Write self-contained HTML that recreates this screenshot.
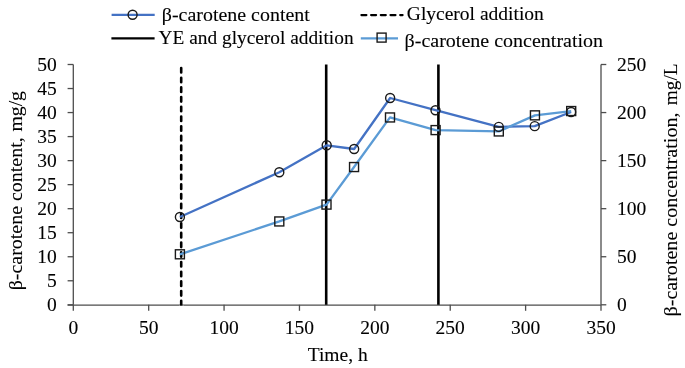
<!DOCTYPE html><html><head><meta charset="utf-8"><style>html,body{margin:0;padding:0;background:#fff;}svg{display:block;will-change:transform;}text{font-family:"Liberation Serif",serif;fill:#000;stroke:#000;stroke-width:0.1px;white-space:pre;}</style></head><body>
<svg width="685" height="368" viewBox="0 0 685 368">
<rect width="685" height="368" fill="#fff"/>
<g stroke="#4d4d4d" stroke-width="1.3" fill="none">
<line x1="73.3" y1="64.5" x2="73.3" y2="304.8"/>
<line x1="601" y1="64.5" x2="601" y2="304.8"/>
<line x1="67.6" y1="305.1" x2="601" y2="305.1"/>
<line x1="67.6" y1="304.80" x2="73.3" y2="304.80"/>
<line x1="67.6" y1="280.77" x2="73.3" y2="280.77"/>
<line x1="67.6" y1="256.74" x2="73.3" y2="256.74"/>
<line x1="67.6" y1="232.71" x2="73.3" y2="232.71"/>
<line x1="67.6" y1="208.68" x2="73.3" y2="208.68"/>
<line x1="67.6" y1="184.65" x2="73.3" y2="184.65"/>
<line x1="67.6" y1="160.62" x2="73.3" y2="160.62"/>
<line x1="67.6" y1="136.59" x2="73.3" y2="136.59"/>
<line x1="67.6" y1="112.56" x2="73.3" y2="112.56"/>
<line x1="67.6" y1="88.53" x2="73.3" y2="88.53"/>
<line x1="67.6" y1="64.50" x2="73.3" y2="64.50"/>
<line x1="601" y1="304.80" x2="606.3" y2="304.80"/>
<line x1="601" y1="256.74" x2="606.3" y2="256.74"/>
<line x1="601" y1="208.68" x2="606.3" y2="208.68"/>
<line x1="601" y1="160.62" x2="606.3" y2="160.62"/>
<line x1="601" y1="112.56" x2="606.3" y2="112.56"/>
<line x1="601" y1="64.50" x2="606.3" y2="64.50"/>
<line x1="73.30" y1="304.8" x2="73.30" y2="310.8"/>
<line x1="148.69" y1="304.8" x2="148.69" y2="310.8"/>
<line x1="224.07" y1="304.8" x2="224.07" y2="310.8"/>
<line x1="299.46" y1="304.8" x2="299.46" y2="310.8"/>
<line x1="374.84" y1="304.8" x2="374.84" y2="310.8"/>
<line x1="450.23" y1="304.8" x2="450.23" y2="310.8"/>
<line x1="525.61" y1="304.8" x2="525.61" y2="310.8"/>
<line x1="601.00" y1="304.8" x2="601.00" y2="310.8"/>
</g>
<g font-size="19.5">
<text x="56.8" y="310.80" text-anchor="end">0</text>
<text x="56.8" y="286.85" text-anchor="end">5</text>
<text x="56.8" y="262.90" text-anchor="end">10</text>
<text x="56.8" y="238.95" text-anchor="end">15</text>
<text x="56.8" y="215.00" text-anchor="end">20</text>
<text x="56.8" y="191.05" text-anchor="end">25</text>
<text x="56.8" y="167.10" text-anchor="end">30</text>
<text x="56.8" y="143.15" text-anchor="end">35</text>
<text x="56.8" y="119.20" text-anchor="end">40</text>
<text x="56.8" y="95.25" text-anchor="end">45</text>
<text x="56.8" y="71.30" text-anchor="end">50</text>
<text x="617" y="311.20">0</text>
<text x="617" y="263.22">50</text>
<text x="617" y="215.24">100</text>
<text x="617" y="167.26">150</text>
<text x="617" y="119.28">200</text>
<text x="617" y="71.30">250</text>
<text x="73.30" y="333.6" text-anchor="middle">0</text>
<text x="148.69" y="333.6" text-anchor="middle">50</text>
<text x="224.07" y="333.6" text-anchor="middle">100</text>
<text x="299.46" y="333.6" text-anchor="middle">150</text>
<text x="374.84" y="333.6" text-anchor="middle">200</text>
<text x="450.23" y="333.6" text-anchor="middle">250</text>
<text x="525.61" y="333.6" text-anchor="middle">300</text>
<text x="601.00" y="333.6" text-anchor="middle">350</text>
<text x="307.7" y="360.6">Time, h</text>
<text transform="translate(22.3,290.3) rotate(-90)" textLength="153" lengthAdjust="spacingAndGlyphs">β-carotene content,</text>
<text transform="translate(22.3,131.6) rotate(-90)" textLength="40.6" lengthAdjust="spacingAndGlyphs">mg/g</text>
<text transform="translate(676.6,316.5) rotate(-90)" textLength="204" lengthAdjust="spacingAndGlyphs">β-carotene concentration,</text>
<text transform="translate(676.6,105.2) rotate(-90)" textLength="41.8" lengthAdjust="spacingAndGlyphs">mg/L</text>
</g>
<line x1="181.2" y1="68.0" x2="181.2" y2="306.1" stroke="#000" stroke-width="2.6" stroke-linecap="round" stroke-dasharray="4.5 5.2"/>
<rect x="179" y="305.75" width="5" height="3" fill="#fff"/>
<line x1="326.2" y1="64.5" x2="326.2" y2="304.8" stroke="#000" stroke-width="2.6"/>
<line x1="438.4" y1="64.5" x2="438.4" y2="304.8" stroke="#000" stroke-width="2.6"/>
<polyline points="179.9,217.05 279.3,172.2 326.7,145.3 354.15,149.0 390.15,98.0 435.5,110.2 498.8,126.9 534.7,126.15 571.1,112.0" fill="none" stroke="#4472C4" stroke-width="2.3" stroke-linejoin="round"/>
<polyline points="179.9,254.3 279.3,221.45 326.5,204.6 354.05,167.05 390.0,117.45 435.6,130.1 498.8,131.45 534.95,115.35 571.2,111.05" fill="none" stroke="#5B9BD5" stroke-width="2.3" stroke-linejoin="round"/>
<circle cx="179.9" cy="217.05" r="4.5" fill="none" stroke="#1a1a1a" stroke-width="1.4"/>
<circle cx="279.3" cy="172.2" r="4.5" fill="none" stroke="#1a1a1a" stroke-width="1.4"/>
<circle cx="326.7" cy="145.3" r="4.5" fill="none" stroke="#1a1a1a" stroke-width="1.4"/>
<circle cx="354.15" cy="149.0" r="4.5" fill="none" stroke="#1a1a1a" stroke-width="1.4"/>
<circle cx="390.15" cy="98.0" r="4.5" fill="none" stroke="#1a1a1a" stroke-width="1.4"/>
<circle cx="435.5" cy="110.2" r="4.5" fill="none" stroke="#1a1a1a" stroke-width="1.4"/>
<circle cx="498.8" cy="126.9" r="4.5" fill="none" stroke="#1a1a1a" stroke-width="1.4"/>
<circle cx="534.7" cy="126.15" r="4.5" fill="none" stroke="#1a1a1a" stroke-width="1.4"/>
<circle cx="571.1" cy="112.0" r="4.5" fill="none" stroke="#1a1a1a" stroke-width="1.4"/>
<rect x="175.4" y="249.8" width="9" height="9" fill="none" stroke="#1a1a1a" stroke-width="1.4"/>
<rect x="274.8" y="216.95" width="9" height="9" fill="none" stroke="#1a1a1a" stroke-width="1.4"/>
<rect x="322.0" y="200.1" width="9" height="9" fill="none" stroke="#1a1a1a" stroke-width="1.4"/>
<rect x="349.55" y="162.55" width="9" height="9" fill="none" stroke="#1a1a1a" stroke-width="1.4"/>
<rect x="385.5" y="112.95" width="9" height="9" fill="none" stroke="#1a1a1a" stroke-width="1.4"/>
<rect x="431.1" y="125.6" width="9" height="9" fill="none" stroke="#1a1a1a" stroke-width="1.4"/>
<rect x="494.3" y="126.94999999999999" width="9" height="9" fill="none" stroke="#1a1a1a" stroke-width="1.4"/>
<rect x="530.45" y="110.85" width="9" height="9" fill="none" stroke="#1a1a1a" stroke-width="1.4"/>
<rect x="566.7" y="106.55" width="9" height="9" fill="none" stroke="#1a1a1a" stroke-width="1.4"/>
<g font-size="19.5">
<line x1="111.6" y1="14.9" x2="154.7" y2="14.9" stroke="#4472C4" stroke-width="2.1"/>
<circle cx="132.6" cy="14.8" r="4.5" fill="none" stroke="#1a1a1a" stroke-width="1.4"/>
<text x="161.8" y="21.0" textLength="148" lengthAdjust="spacingAndGlyphs">β-carotene content</text>
<line x1="111.4" y1="38.3" x2="154.6" y2="38.3" stroke="#000" stroke-width="2.3"/>
<text x="158.6" y="44.4" textLength="195" lengthAdjust="spacingAndGlyphs">YE and glycerol addition</text>
<line x1="361.4" y1="15.1" x2="402.6" y2="15.1" stroke="#000" stroke-width="2.2" stroke-linecap="round" stroke-dasharray="5.0 4.7"/>
<text x="406.8" y="20.4">Glycerol addition</text>
<line x1="360.8" y1="38.4" x2="398" y2="38.4" stroke="#5B9BD5" stroke-width="2.1"/>
<rect x="377.1" y="33.1" width="9" height="9" fill="none" stroke="#1a1a1a" stroke-width="1.4"/>
<text x="404.6" y="46.6" textLength="198.5" lengthAdjust="spacingAndGlyphs">β-carotene concentration</text>
</g>
</svg></body></html>
